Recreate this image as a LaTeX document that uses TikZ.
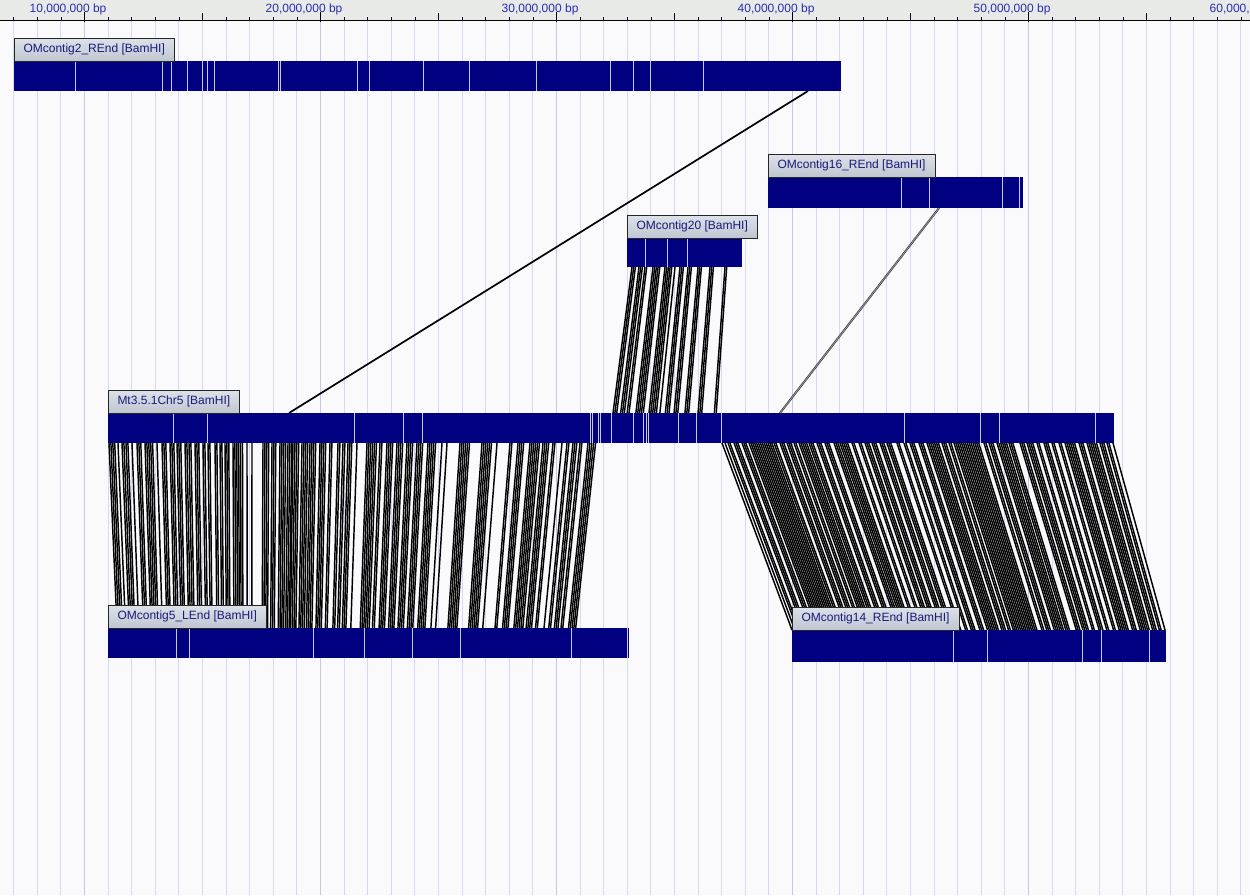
\documentclass[tikz,border=0pt]{standalone}
\usepackage{fontspec}
\setmainfont{Liberation Sans}
\definecolor{navyb}{HTML}{000080}
\definecolor{wmarkc}{HTML}{C8C8F8}
\definecolor{gridc}{HTML}{D8D8F0}
\definecolor{griddc}{HTML}{C6C6E6}
\definecolor{labtop}{HTML}{DDE2E9}
\definecolor{labbot}{HTML}{C0C6D0}
\definecolor{labtext}{HTML}{1A1A7A}
\definecolor{rulerbg}{HTML}{E8EAE8}
\definecolor{rulertext}{HTML}{2B2BB0}
\definecolor{pagebg}{HTML}{FAFAFC}
\newcommand\barmarks[3]{\foreach \p in {#3}{\pgfmathsetmacro\myd{\p-#2}\draw[wmark] ([xshift=\myd pt]#1.north west) -- ([xshift=\myd pt]#1.south west);}}
\begin{document}
\begin{tikzpicture}[x=1pt,y=-1pt,
  bar/.style={fill=navyb, draw=none, inner sep=0pt, outer sep=0pt, anchor=north west},
  lab/.style={draw=black!85, line width=0.8pt, top color=labtop, bottom color=labbot, text=labtext,
     inner xsep=9.5pt, inner ysep=0pt, minimum height=23pt, anchor=south west, outer sep=0pt,
     font=\fontsize{12}{14}\selectfont},
  wmark/.style={draw=wmarkc, line width=0.9pt},
  aln/.style={draw=black, line width=1.45pt},
  gridl/.style={draw=gridc, line width=0.9pt},
  gridd/.style={draw=griddc, line width=0.9pt},
  rtext/.style={text=rulertext, inner sep=0pt, font=\fontsize{12}{14}\selectfont},
  conn/.style={draw=black, line width=1.7pt}]
\useasboundingbox (0,0) rectangle (1250,895);
\clip (0,0) rectangle (1250,895);
\fill[pagebg] (0,0) rectangle (1250,895);
% grid
\foreach \m in {7,...,63}{\pgfmathsetmacro\gx{-151.5+23.6*\m}\draw[gridl] (\gx,20) -- (\gx,895);}
\foreach \m in {10,20,...,60}{\pgfmathsetmacro\gx{-151.5+23.6*\m}\draw[gridd] (\gx,20) -- (\gx,895);}
% ruler
\fill[rulerbg] (0,0) rectangle (1250,20);
\draw[black, line width=1pt] (0,20) -- (1250,20);
\foreach \m in {7,...,63}{\pgfmathsetmacro\gx{-151.5+23.6*\m}\draw[black, line width=0.8pt] (\gx,17) -- (\gx,20);}
\foreach \m in {15,25,...,55}{\pgfmathsetmacro\gx{-151.5+23.6*\m}\draw[black, line width=0.8pt] (\gx,13) -- (\gx,20);}
\foreach \m/\t in {10/{10,000,000 bp},20/{20,000,000 bp},30/{30,000,000 bp},40/{40,000,000 bp},50/{50,000,000 bp},60/{60,000,000 bp}}{
  \pgfmathsetmacro\gx{-151.5+23.6*\m}
  \draw[black, line width=1pt] (\gx,12) -- (\gx,22);
  \node[rtext, anchor=base west] (r\m) at (\gx-55,12) {\t};
}
% bars (defined first as nodes, drawn again later on top)
\path (14,61) node[bar, minimum width=827pt, minimum height=30pt] (c2) {};
\path (768,177) node[bar, minimum width=255pt, minimum height=31pt] (c16) {};
\path (627,238) node[bar, minimum width=115pt, minimum height=29pt] (c20) {};
\path (108,413) node[bar, minimum width=1006pt, minimum height=30pt] (chr) {};
\path (108,628) node[bar, minimum width=521pt, minimum height=30pt] (c5) {};
\path (792,630) node[bar, minimum width=374pt, minimum height=32pt] (c14) {};
% alignment lines: Chr5 -> contig5
\foreach \a/\b in {109/115,118/118,122/124,126/129,132/133,137/142,145/153,157/158,162/167,170/175,177/182,185/187,189/191,195/200,203/205,208/210,215/217,220/222,225/230,233/243,247/248,252/253,263/270,272/277,280/287,288/292,293/300,302/308,310/317,320/327,330/333,338/340,343/345,348/353,357/358,367/377,380/383,387/393,397/403,407/413,417/423,428/437,442/443,447/448,460/470,482/492,497/498,510/513,518/525,530/540,543/550,553/555,562/563,567/570,573/577,580/583,588/597}{
  \pgfmathtruncatemacro\mynn{(\b-\a)/1.9}
  \foreach \k in {0,...,\mynn}{
    \pgfmathsetmacro\myt{\a+1.9*\k}
    \pgfmathsetmacro\mya{\myt-108}
    \pgfmathsetmacro\myb{118+0.9425*(\myt-110)-108}
    \draw[aln] ([xshift=\mya pt]chr.south west) -- ([xshift=\myb pt]c5.north west);
  }}
% Chr5 -> contig14
\foreach \a/\b in {722/722,725/725,728/731,734/739,742/746,749/772,774/777,780/785,787/792,794/797,799/807,809/814,817/822,825/830,834/839,840/849,852/854,859/862,865/870,872/877,880/884,887/892,897/900,904/907,910/915,919/924,927/940,942/947,949/952,954/980,984/987,989/994,997/1007,1009/1014,1020/1024,1027/1034,1037/1040,1044/1049,1052/1055,1059/1062,1065/1075,1079/1084,1087/1097,1100/1104,1107/1110,1113/1113}{
  \pgfmathtruncatemacro\mynn{(\b-\a)/1.9}
  \foreach \k in {0,...,\mynn}{
    \pgfmathsetmacro\myt{\a+1.9*\k}
    \pgfmathsetmacro\mya{\myt-108}
    \pgfmathsetmacro\myb{792+0.954*(\myt-722)-792}
    \draw[aln] ([xshift=\mya pt]chr.south west) -- ([xshift=\myb pt]c14.north west);
  }}
% contig20 -> Chr5
\foreach \a/\b in {632/637,639/643,645/648,653/660,665/672,675/676,680/685,688/693,698/703,710/715,725/728}{
  \pgfmathtruncatemacro\mynn{(\b-\a)/1.7}
  \foreach \k in {0,...,\mynn}{
    \pgfmathsetmacro\myt{\a+1.7*\k}
    \pgfmathsetmacro\mya{\myt-627}
    \pgfmathsetmacro\myb{613+1.09*(\myt-632)-108}
    \draw[aln] ([xshift=\mya pt]c20.south west) -- ([xshift=\myb pt]chr.north west);
  }}
% single connectors
\draw[conn] ([xshift=794pt]c2.south west) -- ([xshift=181pt]chr.north west);
\draw[draw=black!80, line width=0.6pt, double=black!40, double distance=0.8pt] ([xshift=171pt]c16.south west) -- ([xshift=672pt]chr.north west);
% bars on top
\fill[navyb] (c2.north west) rectangle (c2.south east);
\fill[navyb] (c16.north west) rectangle (c16.south east);
\fill[navyb] (c20.north west) rectangle (c20.south east);
\fill[navyb] (chr.north west) rectangle (chr.south east);
\fill[navyb] (c5.north west) rectangle (c5.south east);
\fill[navyb] (c14.north west) rectangle (c14.south east);
\barmarks{c2}{14}{75,162,171,187,202,207,214,278,280,357,369,423,469,536,610,633,650,703}
\barmarks{c16}{768}{901,929,1002,1019}
\barmarks{c20}{627}{645,667,687}
\barmarks{chr}{108}{173,207,354,403,422,590,592,598,600,611,633,643,646,648,678,696,721,904,980,999,1095}
\barmarks{c5}{108}{176,189,313,364,412,460,571,627.5}
\barmarks{c14}{792}{953,987,1082,1101,1149}
% labels
\node[lab] (c2l) at (c2.north west) {OMcontig2\_REnd [BamHI]};
\node[lab] (c16l) at (c16.north west) {OMcontig16\_REnd [BamHI]};
\node[lab] (c20l) at (c20.north west) {OMcontig20 [BamHI]};
\node[lab] (chrl) at (chr.north west) {Mt3.5.1Chr5 [BamHI]};
\node[lab] (c5l) at (c5.north west) {OMcontig5\_LEnd [BamHI]};
\node[lab] (c14l) at (c14.north west) {OMcontig14\_REnd [BamHI]};
\end{tikzpicture}
\end{document}
